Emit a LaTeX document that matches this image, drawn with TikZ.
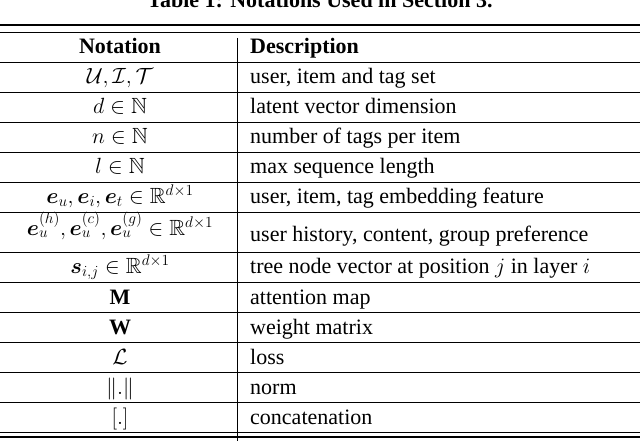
\documentclass[tikz,border=0pt]{standalone}
\usepackage{amsmath,amssymb,bm}
\usepackage{anyfontsize}
\usepackage{fontspec}
\setmainfont{Liberation Serif}
\begin{document}
\begin{tikzpicture}[x=1pt,y=-1pt,
  txt/.style={font=\fontsize{22}{24}\selectfont, inner sep=0pt, text height=15pt, text depth=5pt},
  notc/.style={txt, anchor=center},
  desc/.style={txt, anchor=west},
  bld/.style={font=\bfseries\fontsize{22}{24}\selectfont},
  rulethin/.style={line width=0.8pt},
  rulethick/.style={line width=1.6pt}]
\path[use as bounding box, clip] (0,0) rectangle (640,441);
\node[txt, bld] (title) at (320,3) {Table 1: Notations Used in Section 3.};
\draw[rulethick] (0,25) -- (640,25);
\draw[rulethin] (0,32) -- (640,32);
\draw[line width=1pt] (237,38) -- (237,441);
\node[notc, bld] (h1) at (120,49) {Notation};
\node[desc, bld] (h2) at (250,49) {Description};
\foreach \y in {62,92,122,152,182,212,252,282,312,342,372,402,432} \draw[rulethin] (0,\y) -- (640,\y);
\draw[rulethick] (0,437) -- (640,437);
\node[notc] (n1) at (120,79) {$\mathcal{U},\mathcal{I},\mathcal{T}$};
\node[desc] (d1) at (250,79) {user, item and tag set};
\node[notc] (n2) at (120,109) {$d\in\mathbb{N}$};
\node[desc] (d2) at (250,109) {latent vector dimension};
\node[notc] (n3) at (120,139) {$n\in\mathbb{N}$};
\node[desc] (d3) at (250,139) {number of tags per item};
\node[notc] (n4) at (120,169) {$l\in\mathbb{N}$};
\node[desc] (d4) at (250,169) {max sequence length};
\node[notc] (n5) at (120,198) {$\bm{e}_u,\bm{e}_i,\bm{e}_t\in\mathbb{R}^{d\times 1}$};
\node[desc] (d5) at (250,199) {user, item, tag embedding feature};
\node[notc] (n6) at (120,230) {$\bm{e}_u^{(h)},\bm{e}_u^{(c)},\bm{e}_u^{(g)}\in\mathbb{R}^{d\times 1}$};
\node[desc] (d6) at (250,236) {user history, content, group preference};
\node[notc] (n7) at (120,268) {$\bm{s}_{i,j}\in\mathbb{R}^{d\times 1}$};
\node[desc] (d7) at (250,268) {tree node vector at position $j$ in layer $i$};
\node[notc] (n8) at (120,299) {$\mathbf{M}$};
\node[desc] (d8) at (250,299) {attention map};
\node[notc] (n9) at (120,329) {$\mathbf{W}$};
\node[desc] (d9) at (250,329) {weight matrix};
\node[notc] (n10) at (120,359) {$\mathcal{L}$};
\node[desc] (d10) at (250,359) {loss};
\node[notc] (n11) at (120,389) {$\|.\|$};
\node[desc] (d11) at (250,389) {norm};
\node[notc] (n12) at (120,419) {$[.]$};
\node[desc] (d12) at (250,419) {concatenation};
\end{tikzpicture}
\end{document}
